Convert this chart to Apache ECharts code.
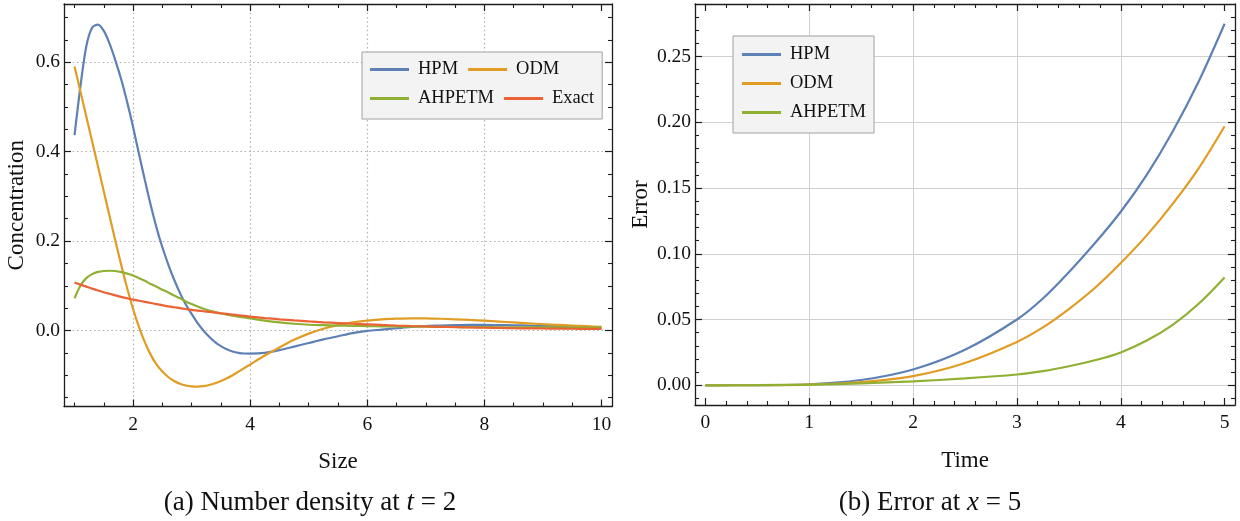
<!DOCTYPE html>
<html><head><meta charset="utf-8">
<script src="https://cdn.jsdelivr.net/npm/echarts@6/dist/echarts.min.js"></script>
<style>html,body{margin:0;padding:0;background:#fff}#c{width:1240px;height:521px}</style>
</head><body><div id="c"></div>
<script>
// ---------- data: panel (a) number density at t = 2 ----------
const sizeX   = [1.0,1.1,1.2,1.3,1.4,1.5,1.6,1.7,1.8,1.9,2.0,2.1,2.2,2.3,2.4,2.5,2.6,2.7,2.8,2.9,3.0,3.1,3.2,3.3,3.4,3.5,3.6,3.7,3.8,3.9,4.0,
                 4.25,4.5,4.75,5.0,5.25,5.5,5.75,6.0,6.25,6.5,6.75,7.0,7.25,7.5,7.75,8.0,8.25,8.5,8.75,9.0,9.25,9.5,9.75,10.0];
const hpmA    = [0.437,0.545,0.635,0.677,0.684,0.670,0.641,0.603,0.560,0.510,0.455,0.395,0.337,0.281,0.230,0.186,0.148,0.114,0.084,0.058,0.037,0.017,0.000,-0.014,-0.026,-0.035,-0.042,-0.047,-0.050,-0.0515,-0.0518,
                 -0.050,-0.044,-0.036,-0.028,-0.020,-0.013,-0.006,-0.001,0.002,0.005,0.008,0.010,0.011,0.012,0.0125,0.0125,0.012,0.0115,0.011,0.010,0.0095,0.0085,0.0075,0.0065];
const odmA    = [0.590,0.535,0.479,0.423,0.367,0.311,0.255,0.199,0.145,0.094,0.048,0.008,-0.026,-0.054,-0.076,-0.092,-0.104,-0.113,-0.119,-0.123,-0.125,-0.1255,-0.1245,-0.122,-0.118,-0.113,-0.107,-0.100,-0.092,-0.084,-0.076,
                 -0.056,-0.038,-0.021,-0.007,0.004,0.012,0.018,0.022,0.025,0.0265,0.0272,0.027,0.0262,0.025,0.0235,0.022,0.020,0.018,0.016,0.014,0.0125,0.011,0.0095,0.008];
const ahpetmA = [0.072,0.100,0.117,0.126,0.131,0.133,0.1335,0.133,0.1305,0.127,0.123,0.117,0.111,0.104,0.098,0.091,0.085,0.078,0.072,0.065,0.059,0.0535,0.0485,0.0445,0.041,0.038,0.0355,0.033,0.031,0.029,0.027,
                 0.022,0.018,0.015,0.0128,0.0118,0.011,0.0103,0.0097,0.0093,0.009,0.0086,0.0083,0.008,0.0078,0.0076,0.0074,0.0072,0.0071,0.007,0.0069,0.0068,0.0067,0.0066,0.0065];
const exactA  = [0.107,0.1025,0.098,0.0935,0.0895,0.0855,0.082,0.0785,0.075,0.072,0.069,0.0665,0.064,0.0615,0.059,0.0565,0.054,0.052,0.050,0.048,0.046,0.0445,0.043,0.0415,0.040,0.0385,0.037,0.0355,0.034,0.0325,0.031,
                 0.0278,0.025,0.0224,0.0202,0.0183,0.0166,0.015,0.0136,0.0123,0.0111,0.0100,0.009,0.0082,0.0074,0.0067,0.0061,0.0056,0.0051,0.0047,0.0044,0.0041,0.0038,0.0036,0.0034];
// ---------- data: panel (b) error at x = 5 ----------
const timeX   = [0,0.5,1.0,1.5,2.0,2.5,3.0,3.25,3.5,3.75,4.0,4.25,4.5,4.75,5.0];
const hpmB    = [0,0.0001,0.0008,0.004,0.012,0.027,0.050,0.066,0.086,0.108,0.132,0.160,0.193,0.231,0.275];
const odmB    = [0,0.0001,0.0005,0.0025,0.007,0.017,0.033,0.044,0.058,0.074,0.093,0.114,0.138,0.165,0.197];
const ahpetmB = [0,0.0001,0.0005,0.0015,0.003,0.0052,0.0082,0.0108,0.0145,0.019,0.025,0.034,0.046,0.062,0.082];
// ---------- names, ticks ----------
const namesA = ['HPM','ODM','AHPETM','Exact'];
const namesB = ['HPM','ODM','AHPETM'];
const xTicksA = [2,4,6,8,10];
const yTicksA = [0.0,0.2,0.4,0.6];
const xTicksB = [0,1,2,3,4,5];
const yTicksB = [0.00,0.05,0.10,0.15,0.20,0.25];
const xGridA = [2,4,6,8];
const yGridA = [0.0,0.2,0.4,0.6];
const xGridB = [1,2,3,4];
const yGridB = [0.00,0.05,0.10,0.15,0.20,0.25];
const captionA = '(a) Number density at {i|t} = 2';
const captionB = '(b) Error at {i|x} = 5';

function minorTicks(start, stop, step, majors) {
  const out = [];
  const n = Math.round((stop - start) / step);
  for (let k = 0; k <= n; k++) {
    const v = +(start + k * step).toFixed(6);
    if (!majors.some(m => Math.abs(m - v) < 1e-9)) out.push(v);
  }
  return out;
}
const xMinorA = minorTicks(1, 10, 0.5, xTicksA);
const yMinorA = minorTicks(-0.15, 0.7, 0.05, yTicksA);
const xMinorB = minorTicks(0, 5, 0.2, xTicksB);
const yMinorB = minorTicks(-0.01, 0.28, 0.01, yTicksB);

const COLORS = {HPM:'#5E81B5', ODM:'#E19C24', AHPETM:'#8FB032', Exact:'#EB6235'};
const FONT = '"Liberation Serif", "Times New Roman", serif';
const FRAME = '#1e1e1e';

const R = {
  A: {x:[0.82,10.18], y:[-0.17,0.73]},
  B: {x:[-0.1,5.1], y:[-0.015,0.29]}
};

function base(dim, gi, pos, rng, extra) {
  return Object.assign({
    type:'value', gridIndex: gi, position: pos, min: rng[0], max: rng[1],
    axisLine:{show:false, onZero:false},
    axisTick:{show:false},
    axisLabel:{show:false},
    splitLine:{show:false},
    minorTick:{show:false}, minorSplitLine:{show:false},
    silent:true, z: 5
  }, extra || {});
}
function frameAxis(dim, gi, pos, rng, majors, withLabels, fmt, nameOpt) {
  const o = base(dim, gi, pos, rng, {
    axisLine:{show:true, onZero:false, lineStyle:{color:FRAME, width:1.3}},
    axisTick:{show:true, inside:true, length:7, customValues:majors, lineStyle:{color:FRAME, width:1.2}},
    axisLabel:{show:withLabels, customValues:majors, formatter:fmt, fontFamily:FONT, fontSize:19.5, color:'#111',
               margin: dim==='x' ? 8 : 4}
  });
  if (nameOpt) Object.assign(o, nameOpt);
  return o;
}
function minorAxis(dim, gi, pos, rng, minors) {
  return base(dim, gi, pos, rng, {
    axisTick:{show:true, inside:true, length:4, customValues:minors, lineStyle:{color:FRAME, width:1.1}}
  });
}
function gridAxis(dim, gi, pos, rng, vals, lineStyle) {
  return base(dim, gi, pos, rng, {
    z: 0,
    axisTick:{show:false, customValues:vals},
    splitLine:{show:true, lineStyle: lineStyle}
  });
}
const dottedA = {color:'#b0b0b0', width:1.2, type:[1.5,2.8]};
const solidB = {color:'#d0d0d0', width:1};

const nameStyle = {fontFamily:FONT, fontSize:23, color:'#111'};
const xAxes = [
  frameAxis('x',0,'bottom',R.A.x,xTicksA,true,v=>String(v),{name:'Size',nameLocation:'middle',nameGap:44,nameTextStyle:nameStyle}),
  frameAxis('x',0,'top',R.A.x,xTicksA,false),
  minorAxis('x',0,'bottom',R.A.x,xMinorA),
  minorAxis('x',0,'top',R.A.x,xMinorA),
  gridAxis('x',0,'bottom',R.A.x,xGridA,dottedA),
  frameAxis('x',1,'bottom',R.B.x,xTicksB,true,v=>String(v),{name:'Time',nameLocation:'middle',nameGap:44,nameTextStyle:nameStyle}),
  frameAxis('x',1,'top',R.B.x,xTicksB,false),
  minorAxis('x',1,'bottom',R.B.x,xMinorB),
  minorAxis('x',1,'top',R.B.x,xMinorB),
  gridAxis('x',1,'bottom',R.B.x,xGridB,solidB)
];
const yAxes = [
  frameAxis('y',0,'left',R.A.y,yTicksA,true,v=>v.toFixed(1),{name:'Concentration',nameLocation:'middle',nameGap:36,nameRotate:90,nameTextStyle:nameStyle}),
  frameAxis('y',0,'right',R.A.y,yTicksA,false),
  minorAxis('y',0,'left',R.A.y,yMinorA),
  minorAxis('y',0,'right',R.A.y,yMinorA),
  gridAxis('y',0,'left',R.A.y,yGridA,dottedA),
  frameAxis('y',1,'left',R.B.y,yTicksB,true,v=>v.toFixed(2),{name:'Error',nameLocation:'middle',nameGap:43,nameRotate:90,nameTextStyle:nameStyle}),
  frameAxis('y',1,'right',R.B.y,yTicksB,false),
  minorAxis('y',1,'left',R.B.y,yMinorB),
  minorAxis('y',1,'right',R.B.y,yMinorB),
  gridAxis('y',1,'left',R.B.y,yGridB,solidB)
];

function pairs(xs, ys) { return xs.map((x,i)=>[x, ys[i]]); }
function lineSeries(name, xs, ys, xi, yi) {
  return {
    type:'line', name, xAxisIndex:xi, yAxisIndex:yi, data:pairs(xs,ys),
    showSymbol:false, symbol:'none', smooth:0.3, clip:true, z:3,
    lineStyle:{color:COLORS[name], width:2.2}, itemStyle:{color:COLORS[name]}
  };
}
const series = [
  lineSeries('HPM', sizeX, hpmA, 0, 0),
  lineSeries('ODM', sizeX, odmA, 0, 0),
  lineSeries('AHPETM', sizeX, ahpetmA, 0, 0),
  lineSeries('Exact', sizeX, exactA, 0, 0),
  lineSeries('HPM', timeX, hpmB, 5, 5),
  lineSeries('ODM', timeX, odmB, 5, 5),
  lineSeries('AHPETM', timeX, ahpetmB, 5, 5)
];

const legendCommon = {
  icon:'rect', itemWidth:39, itemHeight:3, itemGap:10, selectedMode:false,
  backgroundColor:'#f3f3f3', borderColor:'#a0a0a0', borderWidth:1, borderRadius:0,
  textStyle:{fontFamily:FONT, fontSize:18.5, color:'#111', lineHeight:18, padding:[0,0,0,4]},
  z: 10
};
const legends = [
  Object.assign({}, legendCommon, {data:namesA, orient:'horizontal', left:362, top:52, width:228, padding:[8,8,11,8]}),
  Object.assign({}, legendCommon, {data:namesB, orient:'vertical', left:733, top:36, padding:[9,8,11,9]})
];

const capStyle = {fontFamily:FONT, fontSize:27, fill:'#111'};
const richI = {i:{fontFamily:FONT, fontSize:27, fontStyle:'italic', fill:'#111'}};
const option = {
  animation:false,
  backgroundColor:'#ffffff',
  grid:[
    {left:64, top:4, width:548, height:402.5},
    {left:695, top:4, width:540, height:401}
  ],
  xAxis:xAxes, yAxis:yAxes,
  legend:legends,
  series:series,
  graphic:[
    {type:'text', x:310, y:503, style:Object.assign({text:captionA, align:'center', verticalAlign:'middle', rich:richI}, capStyle)},
    {type:'text', x:930, y:503, style:Object.assign({text:captionB, align:'center', verticalAlign:'middle', rich:richI}, capStyle)}
  ]
};
const chart = echarts.init(document.getElementById('c'), null, {renderer:'canvas'});
chart.setOption(option);
</script></body></html>
